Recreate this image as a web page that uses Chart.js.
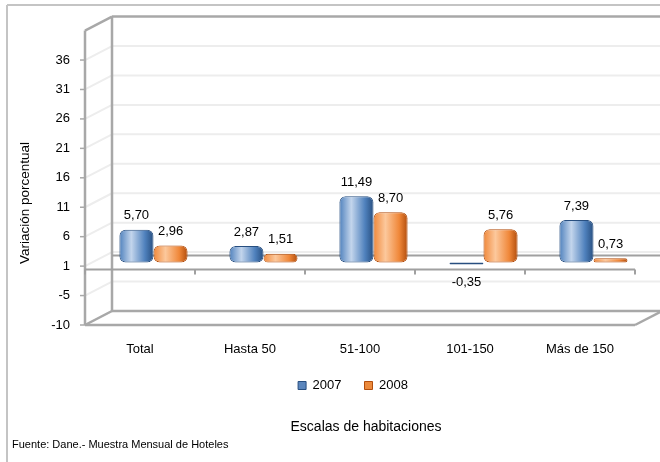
<!DOCTYPE html>
<html lang="es">
<head>
<meta charset="UTF-8">
<title>Variación porcentual por escalas de habitaciones</title>
<script src="https://cdn.jsdelivr.net/npm/chart.js"></script>
<style>
    body { margin: 0; background: #fff; }
    .wrap { width: 660px; height: 462px; position: relative; }
</style>
</head>
<body>
<div class="wrap"><canvas id="chart"></canvas></div>
<script>
    // Data
    const categories = ['Total', 'Hasta 50', '51-100', '101-150', 'Más de 150'];
    const values2007 = [5.70, 2.87, 11.49, -0.35, 7.39];
    const values2008 = [2.96, 1.51, 8.70, 5.76, 0.73];
    const seriesNames = ['2007', '2008'];
    // Excel axis: min -9.6, major unit 5.1, labels shown rounded
    const yTicks = [-9.6, -4.5, 0.6, 5.7, 10.8, 15.9, 21, 26.1, 31.2, 36.3];
    const yTickLabels = ['-10', '-5', '1', '6', '11', '16', '21', '26', '31', '36'];

    const FONT = '"Liberation Sans", Arial, sans-serif';
    const DX = 27, DY = -14;          // depth of the 3D box
    const BX = DX / 2, BY = DY / 2;   // bars sit half way in

    const palettes = [
        { dark: '#284f80', mid: '#4f81bd', light: '#c3d5ec', legend: '#5b86bd' },
        { dark: '#b24d0c', mid: '#f0883a', light: '#fcc89c', legend: '#ec8a3c' }
    ];

    // horizontal shine for each bar
    function barGradient(context) {
        const chart = context.chart;
        if (!chart.chartArea || context.type !== 'data') return palettes[context.datasetIndex].mid;
        const xs = chart.scales.x;
        const half = (xs.width / categories.length) * 0.62 / 2;
        const cx = xs.getPixelForValue(context.dataIndex);
        const x0 = context.datasetIndex === 0 ? cx - half : cx;
        const x1 = x0 + half;
        const p = palettes[context.datasetIndex];
        const g = chart.ctx.createLinearGradient(x0, 0, x1, 0);
        g.addColorStop(0, p.mid);
        g.addColorStop(0.35, p.light);
        g.addColorStop(0.75, p.mid);
        g.addColorStop(1, p.dark);
        return g;
    }

    function line(ctx, x1, y1, x2, y2) {
        ctx.beginPath();
        ctx.moveTo(x1, y1);
        ctx.lineTo(x2, y2);
        ctx.stroke();
    }

    // 3D frame, walls and gridlines, then shift bars into the box
    const frame = {
        id: 'frame',
        beforeDraw(chart) {
            const c = chart.ctx;
            c.save();
            c.strokeStyle = '#c4c4c4';
            c.lineWidth = 2;
            line(c, 7, 5, 7, 462);
            line(c, 7, 5, 660, 5);
            c.restore();
        },
        beforeDatasetsDraw(chart) {
            const c = chart.ctx;
            const a = chart.chartArea;
            const ys = chart.scales.y;
            c.save();
            // gridlines on back and side walls
            c.strokeStyle = '#ededed';
            c.lineWidth = 2;
            yTicks.forEach(t => {
                const y = ys.getPixelForValue(t);
                line(c, a.left + DX, y + DY, a.right + DX, y + DY);
                line(c, a.left, y, a.left + DX, y + DY);
            });
            // walls and floor edges
            c.strokeStyle = '#a8a8a8';
            c.lineWidth = 2.5;
            line(c, a.left + DX, a.top + DY, a.left + DX, a.bottom + DY);
            line(c, a.left + DX, a.top + DY, a.right + DX, a.top + DY);
            line(c, a.right + DX, a.top + DY, a.right + DX, a.bottom + DY);
            line(c, a.left + DX, a.bottom + DY, a.right + DX, a.bottom + DY);
            line(c, a.left, a.top, a.left + DX, a.top + DY);
            line(c, a.left, a.top, a.left, a.bottom);
            line(c, a.left, a.bottom, a.right, a.bottom);
            line(c, a.left, a.bottom, a.left + DX, a.bottom + DY);
            line(c, a.right, a.bottom, a.right + DX, a.bottom + DY);
            // y axis tick marks and labels
            c.lineWidth = 1.5;
            c.fillStyle = '#000';
            c.font = '13px ' + FONT;
            c.textAlign = 'right';
            c.textBaseline = 'middle';
            yTicks.forEach((t, i) => {
                const y = ys.getPixelForValue(t);
                line(c, a.left - 5, y, a.left, y);
                c.fillText(yTickLabels[i], a.left - 15, y);
            });
            // category axis at zero
            const y0 = ys.getPixelForValue(0);
            c.strokeStyle = '#a0a0a0';
            c.lineWidth = 2;
            line(c, a.left + DX, y0 + DY, a.right + DX, y0 + DY);
            line(c, a.left, y0, a.right, y0);
            const step = a.width / categories.length;
            for (let i = 0; i <= categories.length; i++) {
                const x = a.left + i * step;
                line(c, x, y0, x, y0 + 5);
            }
            c.restore();
            c.save();
            c.translate(BX, BY);
        },
        afterDatasetsDraw(chart) {
            const c = chart.ctx;
            c.font = '13px ' + FONT;
            c.fillStyle = '#000';
            c.textAlign = 'center';
            c.textBaseline = 'middle';
            chart.data.datasets.forEach((ds, di) => {
                chart.getDatasetMeta(di).data.forEach((el, i) => {
                    const v = ds.data[i];
                    const txt = v.toFixed(2).replace('.', ',');
                    const y = v >= 0 ? el.y - 14 : el.y + 18;
                    c.fillText(txt, el.x, y);
                });
            });
            c.restore();
        },
        afterDraw(chart) {
            const c = chart.ctx;
            c.save();
            c.fillStyle = '#000';
            c.textBaseline = 'middle';
            // y axis title
            c.save();
            c.translate(25, 203);
            c.rotate(-Math.PI / 2);
            c.textAlign = 'center';
            c.font = '13.5px ' + FONT;
            c.fillText('Variación porcentual', 0, 0);
            c.restore();
            // x axis title
            c.textAlign = 'center';
            c.font = '14px ' + FONT;
            c.fillText('Escalas de habitaciones', 366, 427);
            // source
            c.textAlign = 'left';
            c.font = '11px ' + FONT;
            c.fillText('Fuente: Dane.- Muestra Mensual de Hoteles', 12, 445);
            c.restore();
        }
    };

    const chart = new Chart(document.getElementById('chart'), {
        type: 'bar',
        data: {
            labels: categories,
            datasets: [
                {
                    label: seriesNames[0],
                    data: values2007,
                    backgroundColor: barGradient,
                    borderColor: palettes[0].dark,
                    borderWidth: 1,
                    borderRadius: 6,
                    borderSkipped: false
                },
                {
                    label: seriesNames[1],
                    data: values2008,
                    backgroundColor: barGradient,
                    borderColor: palettes[1].dark,
                    borderWidth: 1,
                    borderRadius: 6,
                    borderSkipped: false
                }
            ]
        },
        options: {
            responsive: true,
            maintainAspectRatio: false,
            animation: false,
            categoryPercentage: 0.62,
            barPercentage: 1,
            layout: {
                padding: { top: 30.6, left: 71, right: 25, bottom: 60 }
            },
            scales: {
                x: {
                    grid: { display: false, drawTicks: false },
                    border: { display: false },
                    ticks: {
                        color: '#000',
                        font: { family: FONT, size: 13 },
                        padding: 17,
                        maxRotation: 0,
                        autoSkip: false
                    },
                    afterFit(scale) { scale.height = 31; }
                },
                y: {
                    min: -9.6,
                    max: 41.4,
                    grid: { display: false, drawTicks: false },
                    border: { display: false },
                    // labels are drawn by the frame plugin from yTickLabels
                    ticks: { display: false, stepSize: 5.1 },
                    afterFit(scale) { scale.width = 14; }
                }
            },
            plugins: {
                tooltip: { enabled: false },
                legend: {
                    position: 'bottom',
                    labels: {
                        color: '#000',
                        font: { family: FONT, size: 13 },
                        boxWidth: 8,
                        boxHeight: 8,
                        padding: 23,
                        generateLabels(ch) {
                            return ch.data.datasets.map((ds, i) => ({
                                text: ds.label,
                                fillStyle: palettes[i].legend,
                                strokeStyle: palettes[i].dark,
                                lineWidth: 1,
                                datasetIndex: i
                            }));
                        }
                    }
                }
            }
        },
        plugins: [frame]
    });
</script>
</body>
</html>
